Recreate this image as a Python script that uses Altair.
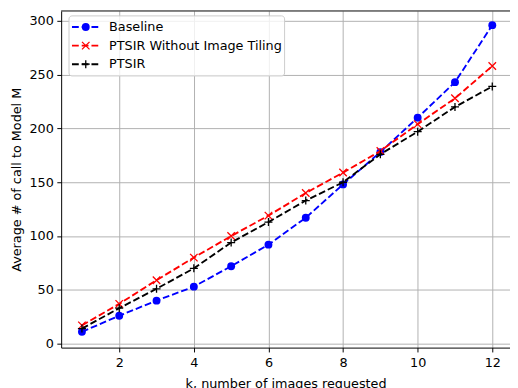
import altair as alt
import pandas as pd

# ---- data ----
k_values = list(range(1, 13))
series_names = ["Baseline", "PTSIR Without Image Tiling", "PTSIR"]
baseline = [11, 26, 40, 53, 72, 92, 117, 148, 178, 210, 243, 296]
no_tiling = [17, 37, 59, 80, 100, 119, 140, 159, 179, 204, 228, 258]
ptsir = [14, 33, 51, 70, 94, 113, 133, 150, 176, 197, 220, 239]
x_ticks = [2, 4, 6, 8, 10, 12]
y_ticks = [0, 50, 100, 150, 200, 250, 300]

colors = ["#0000ff", "#ff0000", "#000000"]
X_PATH = "M-1,-1L1,1M-1,1L1,-1"
PLUS_PATH = "M-1,0L1,0M0,-1L0,1"
shapes = ["circle", X_PATH, PLUS_PATH]
filled = [True, False, False]
sizes = [64, 58, 66]

rows = []
for name, vals in zip(series_names, [baseline, no_tiling, ptsir]):
    for kk, v in zip(k_values, vals):
        rows.append({"k": kk, "series": name, "value": v})
df = pd.DataFrame(rows)

W, H = 456, 342
FONT = "DejaVu Sans"
FS = 13
DASH = [6.9, 3]

x_scale = alt.Scale(domain=[0.443, 12.475], nice=False, zero=False)
y_scale = alt.Scale(domain=[-3.66, 309.15], nice=False, zero=False)
color_scale = alt.Scale(domain=series_names, range=colors)

x_axis = alt.Axis(values=x_ticks, title="k, number of images requested", format="d",
                  grid=True, gridColor="#b0b0b0", gridWidth=1,
                  domainColor="#000000", domainWidth=1, tickColor="#000000",
                  tickSize=4.4, tickWidth=1, labelPadding=4.5, labelFont=FONT,
                  labelFontSize=FS, labelColor="#000000", titleFont=FONT,
                  titleFontSize=FS, titleFontWeight="normal", titleColor="#000000",
                  titlePadding=9, labelFlush=False)
y_axis = alt.Axis(values=y_ticks, title="Average # of call to Model M", format="d",
                  grid=True, gridColor="#b0b0b0", gridWidth=1,
                  domainColor="#000000", domainWidth=1, tickColor="#000000",
                  tickSize=4.4, tickWidth=1, labelPadding=3.5, labelFont=FONT,
                  labelFontSize=FS, labelColor="#000000", titleFont=FONT,
                  titleFontSize=FS, titleFontWeight="normal", titleColor="#000000",
                  titlePadding=6, labelFlush=False)

X_ENC = alt.X("k:Q", scale=x_scale, axis=x_axis)
Y_ENC = alt.Y("value:Q", scale=y_scale, axis=y_axis)

base = alt.Chart(df)
layers = []
for i, name in enumerate(series_names):
    sub = base.transform_filter(alt.datum.series == name)
    line = sub.mark_line(strokeWidth=1.9, strokeDash=DASH, clip=True).encode(
        x=X_ENC, y=Y_ENC,
        color=alt.Color("series:N", scale=color_scale, legend=None),
    )
    if filled[i]:
        pt = sub.mark_point(shape=shapes[i], filled=True, size=sizes[i], opacity=1).encode(
            x=X_ENC, y=Y_ENC,
            fill=alt.Fill("series:N", scale=color_scale, legend=None),
        )
    else:
        pt = sub.mark_point(shape=shapes[i], filled=False, size=sizes[i], strokeWidth=1.3, opacity=1).encode(
            x=X_ENC, y=Y_ENC,
            stroke=alt.Stroke("series:N", scale=color_scale, legend=None),
        )
    layers += [line, pt]

one = alt.Chart(pd.DataFrame({"a": [0]}))

# top spine
top_spine = one.mark_rule(color="#000000", strokeWidth=1).encode(
    x=alt.value(0), x2=alt.value(W), y=alt.value(0)
)
layers.append(top_spine)

# legend box (matplotlib style)
legend_box = one.mark_rect(fill="#ffffff", fillOpacity=0.8, stroke="#cccccc",
                           strokeWidth=1, cornerRadius=3).encode(
    x=alt.value(8), x2=alt.value(227), y=alt.value(5), y2=alt.value(66)
)
layers.append(legend_box)

for i, name in enumerate(series_names):
    yy = 16.3 + 18.9 * i
    leg_line = one.mark_rule(color=colors[i], strokeWidth=1.9, strokeDash=DASH).encode(
        x=alt.value(11), x2=alt.value(38), y=alt.value(yy)
    )
    if filled[i]:
        leg_pt = one.mark_point(shape=shapes[i], filled=True, fill=colors[i], size=sizes[i], opacity=1).encode(
            x=alt.value(25), y=alt.value(yy)
        )
    else:
        leg_pt = one.mark_point(shape=shapes[i], filled=False, stroke=colors[i], size=sizes[i],
                                strokeWidth=1.3, opacity=1).encode(
            x=alt.value(25), y=alt.value(yy)
        )
    leg_text = one.mark_text(text=name, align="left", baseline="middle", font=FONT,
                             fontSize=FS, color="#000000").encode(
        x=alt.value(48.7), y=alt.value(yy)
    )
    layers += [leg_line, leg_pt, leg_text]

chart = alt.layer(*layers).properties(
    width=W, height=H,
    padding={"left": 54, "top": 0, "right": 0, "bottom": 38},
    autosize=alt.AutoSizeParams(type="none"),
    background="#ffffff",
).configure_view(strokeWidth=0)

chart.save("out.html", embed_options={"renderer": "svg", "actions": False})
